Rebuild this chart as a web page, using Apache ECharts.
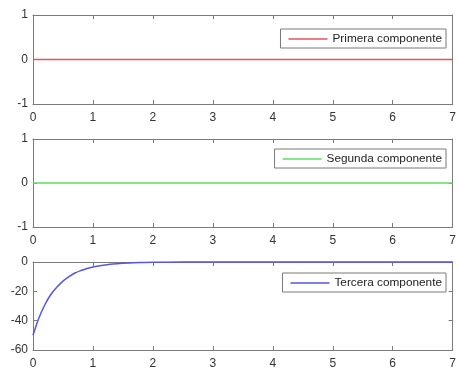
<!DOCTYPE html>
<html>
<head>
<meta charset="utf-8">
<script src="https://cdn.jsdelivr.net/npm/echarts@6/dist/echarts.min.js"></script>
<style>html,body{margin:0;padding:0;background:#fff;}#c{width:459px;height:372px;}</style>
</head>
<body>
<div id="c"></div>
<script>
var xTicks = [0, 1, 2, 3, 4, 5, 6, 7];
var t = [0, 0.1, 0.2, 0.3, 0.4, 0.5, 0.6, 0.7, 0.8, 0.9, 1.0, 1.2, 1.4, 1.6, 1.8, 2.0, 2.5, 3.0, 4.0, 5.0, 6.0, 7.0];
var comp1 = [0, 0, 0, 0, 0, 0, 0, 0, 0, 0, 0, 0, 0, 0, 0, 0, 0, 0, 0, 0, 0, 0];
var comp2 = [0, 0, 0, 0, 0, 0, 0, 0, 0, 0, 0, 0, 0, 0, 0, 0, 0, 0, 0, 0, 0, 0];
var comp3 = [-50, -38, -29, -22, -17, -13, -10, -7.5, -5.8, -4.4, -3.4, -2.0, -1.2, -0.7, -0.4, -0.2, -0.05, 0, 0, 0, 0, 0];
var names = ['Primera componente', 'Segunda componente', 'Tercera componente'];
var colors = ['#e2545c', '#5ee05e', '#5656e0'];
var yRanges = [[-1, 1, 1], [-1, 1, 1], [-60, 0, 20]];

var axisCol = '#7a7a7a';
var tops = [15, 139, 262];
var heights = [89, 88, 88];
var legTops = [29, 149, 273];
var font = 'Liberation Sans, Arial, sans-serif';

function pairs(y) { return t.map(function (v, i) { return [v, y[i]]; }); }
var series = [comp1, comp2, comp3];

var grids = [], xAxes = [], yAxes = [], ser = [], legends = [];
for (var g = 0; g < 3; g++) {
  grids.push({ left: 33, top: tops[g], width: 424, height: heights[g] });
  [ 'bottom', 'top' ].forEach(function (pos) {
    xAxes.push({
      type: 'value', gridIndex: g, position: pos, min: xTicks[0], max: xTicks[xTicks.length - 1], interval: 1,
      axisLine: { show: true, onZero: false, lineStyle: { color: axisCol, width: 1 } },
      axisTick: { show: true, inside: true, length: 4, lineStyle: { color: axisCol } },
      axisLabel: { show: pos === 'bottom', fontSize: 12, color: '#333', margin: 8, fontFamily: font },
      splitLine: { show: false }
    });
  });
  [ 'left', 'right' ].forEach(function (pos) {
    yAxes.push({
      type: 'value', gridIndex: g, position: pos, min: yRanges[g][0], max: yRanges[g][1], interval: yRanges[g][2],
      axisLine: { show: true, onZero: false, lineStyle: { color: axisCol, width: 1 } },
      axisTick: { show: true, inside: true, length: 4, lineStyle: { color: axisCol } },
      axisLabel: { show: pos === 'left', fontSize: 12, color: '#333', margin: 5, fontFamily: font },
      splitLine: { show: false }
    });
  });
  ser.push({
    type: 'line', name: names[g], xAxisIndex: g * 2, yAxisIndex: g * 2,
    data: pairs(series[g]), symbol: 'none', smooth: 0.3, clip: false,
    lineStyle: { color: colors[g], width: 1.5 }, itemStyle: { color: colors[g] }, z: 1
  });
  legends.push({
    data: [names[g]], right: 13, top: legTops[g], orient: 'vertical',
    backgroundColor: '#fff', borderColor: axisCol, borderWidth: 1, borderRadius: 0,
    padding: [3, 4, 2, 8], itemWidth: 39, itemHeight: 1.5, itemGap: 5, icon: 'rect',
    itemStyle: { color: colors[g], borderWidth: 0 },
    textStyle: { fontSize: 11.8, color: '#222', fontFamily: font, lineHeight: 14 }, selectedMode: false
  });
}

var chart = echarts.init(document.getElementById('c'), null, { renderer: 'canvas' });
chart.setOption({
  animation: false,
  backgroundColor: '#fff',
  grid: grids, xAxis: xAxes, yAxis: yAxes, series: ser, legend: legends
});
</script>
</body>
</html>
